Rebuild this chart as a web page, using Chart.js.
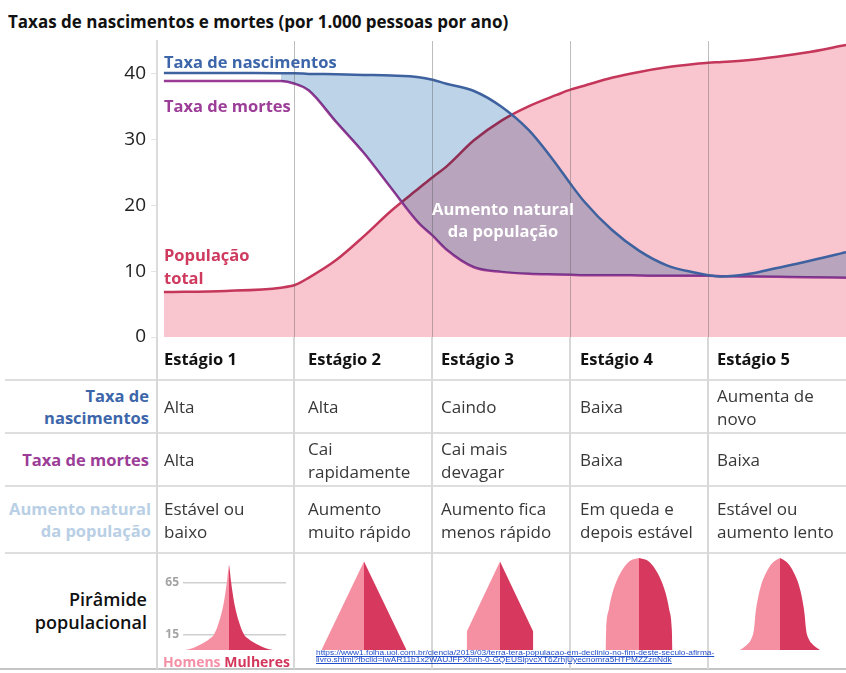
<!DOCTYPE html>
<html lang="pt-BR">
<head>
<meta charset="utf-8">
<title>Transição demográfica</title>
<script src="https://cdn.jsdelivr.net/npm/chart.js@4.4.1/dist/chart.umd.min.js"></script>
<style>
  body { margin: 0; background: #fff; font-family: 'Open Sans', 'Noto Sans', sans-serif; }
  #page { position: relative; width: 846px; height: 673px; overflow: hidden; }
  .abs { position: absolute; white-space: nowrap; }
  .hl { position: absolute; height: 2px; background: #dedede; }
  .vl { position: absolute; width: 1.5px; background: #d8d8d8; top: 337px; height: 332px; }
  .cell { position: absolute; display: flex; align-items: center; white-space: pre-line;
          font-size: 17px; line-height: 23px; color: #383838; }
  .rowlbl { position: absolute; left: 0; width: 149px; display: flex; align-items: center;
            justify-content: flex-end; text-align: right; font-weight: bold; font-size: 16.5px;
            line-height: 22px; white-space: pre-line; }
  .big { font-weight: bold; font-size: 16.5px; }
  canvas { position: absolute; }
</style>
</head>
<body>
<div id="page">
  <div class="abs big" style="left:8px;top:12px;line-height:20px;color:#111;font-size:17px">Taxas de nascimentos e mortes (por 1.000 pessoas por ano)</div>
  <div id="lines"></div>
  <canvas id="mainChart" width="846" height="330" style="left:0;top:30px"></canvas>
  <canvas id="pyr1" width="128" height="110" style="left:158px;top:555px"></canvas>
  <canvas id="pyr2" width="138" height="110" style="left:294px;top:555px"></canvas>
  <canvas id="pyr3" width="138" height="110" style="left:432px;top:555px"></canvas>
  <canvas id="pyr4" width="138" height="110" style="left:570px;top:555px"></canvas>
  <canvas id="pyr5" width="138" height="110" style="left:708px;top:555px"></canvas>

  <div class="abs big" style="left:164px;top:52px;line-height:20px;color:#3d66aa">Taxa de nascimentos</div>
  <div class="abs big" style="left:164px;top:96px;line-height:20px;color:#9c3d98">Taxa de mortes</div>
  <div class="abs big" style="left:164px;top:243px;line-height:23px;color:#cf3a5f">População<br>total</div>
  <div class="abs big" style="left:403px;top:198px;width:200px;text-align:center;line-height:22px;color:#fff">Aumento natural<br>da população</div>

  <div id="table"></div>

  <div class="abs" style="left:163px;top:653px;line-height:18px;font-size:14px;font-weight:bold">
    <span style="color:#f48fa6">Homens</span> <span style="color:#d4375c">Mulheres</span>
  </div>
  <div class="abs" id="url" style="left:316px;top:650px;font-family:'Liberation Sans',sans-serif;font-size:7px;line-height:6.5px;color:#2350c8;text-decoration:underline;transform-origin:0 0">https://www1.folha.uol.com.br/ciencia/2019/03/terra-tera-populacao-em-declinio-no-fim-deste-seculo-afirma-<br>livro.shtml?fbclid=IwAR11b1x2WAUJFFXbnh-0-GQEUSipvcXT6ZrhjUyecnomra5HTPMZZznNdk</div>
</div>

<script>
// Curvas do gráfico principal (posição 0–5 = estágios)
const stagePos   = [0.05, 0.5, 0.9, 1.0, 1.1, 1.3, 1.5, 1.7, 1.9, 2.0, 2.1, 2.3, 2.5, 2.7, 2.9, 3.0, 3.1, 3.3, 3.5, 3.7, 3.9, 4.0, 4.1, 4.3, 4.5, 4.7, 5.0];
const birthRate  = [40.15, 40.15, 40.1, 40.1, 40.0, 39.95, 39.85, 39.75, 39.5, 39.1, 38.5, 37.4, 35.0, 31.4, 26.2, 23.3, 20.6, 16.3, 13.1, 10.9, 9.8, 9.4, 9.2, 9.6, 10.5, 11.4, 12.9];
const deathRate  = [38.9, 38.9, 38.9, 38.5, 37.5, 32.7, 28.0, 22.6, 17.3, 15.4, 13.3, 10.6, 9.9, 9.6, 9.5, 9.45, 9.4, 9.4, 9.35, 9.3, 9.3, 9.3, 9.25, 9.2, 9.15, 9.1, 9.0];
const population = [6.84, 7.0, 7.5, 7.9, 9.0, 11.7, 15.3, 19.2, 22.6, 24.3, 25.9, 29.9, 32.9, 35.1, 36.8, 37.6, 38.2, 39.4, 40.3, 41.0, 41.5, 41.7, 41.8, 42.1, 42.6, 43.2, 44.4];
const yTicks = [0, 10, 20, 30, 40];

// Tabela
const stageNames = ['Estágio 1', 'Estágio 2', 'Estágio 3', 'Estágio 4', 'Estágio 5'];
const birthDesc  = ['Alta', 'Alta', 'Caindo', 'Baixa', 'Aumenta de\nnovo'];
const deathDesc  = ['Alta', 'Cai\nrapidamente', 'Cai mais\ndevagar', 'Baixa', 'Baixa'];
const growthDesc = ['Estável ou\nbaixo', 'Aumento\nmuito rápido', 'Aumento fica\nmenos rápido', 'Em queda e\ndepois estável', 'Estável ou\naumento lento'];

// Pirâmides: idade x meia-largura
const pyrAges1  = [0, 2, 5, 11, 15, 27, 43, 59, 66, 75, 82.5];
const pyrWidth1 = [44, 36, 29, 19, 15, 10, 5.7, 3, 2, 1, 0];
const pyrAges2  = [0, 85];
const pyrWidth2 = [42.5, 0];
const pyrAges3  = [0, 17.5, 85];
const pyrWidth3 = [33.3, 33.3, 0];
const pyrAges4  = [0, 20, 40, 55, 65, 75, 82, 86, 88.5];
const pyrWidth4 = [33.5, 32.8, 30, 26.5, 23, 18, 13, 8.5, 0];
const pyrAges5  = [0, 2, 5, 11, 20, 35, 50, 62, 72, 80, 85, 88.5];
const pyrWidth5 = [40, 37, 33, 28.5, 26, 24.5, 22, 19, 15, 10.5, 6, 0];
const pyrTicks  = [15, 65];

// --- linhas e textos da tabela
const colLeft = [157, 294, 432, 570, 708];
const textLeft = [164, 308, 441, 580, 717];
const lines = document.getElementById('lines');
[380, 433, 486, 553].forEach(y => {
  lines.insertAdjacentHTML('beforeend', `<div class="hl" style="left:5px;width:841px;top:${y - 1}px"></div>`);
});
lines.insertAdjacentHTML('beforeend', '<div class="hl" style="left:0;width:846px;top:668px;background:#c4c4c4"></div>');
colLeft.forEach(x => {
  lines.insertAdjacentHTML('beforeend', `<div class="vl" style="left:${x - 1}px"></div>`);
});

const table = document.getElementById('table');
function addRow(texts, top, bottom, extra) {
  texts.forEach((t, i) => {
    const d = document.createElement('div');
    d.className = 'cell';
    d.style.cssText = `left:${textLeft[i]}px;top:${top}px;height:${bottom - top}px;` + (extra || '');
    d.textContent = t;
    table.appendChild(d);
  });
}
addRow(stageNames, 337, 380, 'font-weight:bold;color:#111;font-size:16.5px');
addRow(birthDesc, 380, 433);
addRow(deathDesc, 433, 486);
addRow(growthDesc, 486, 553);

function addLabel(text, top, bottom, color, extra) {
  const d = document.createElement('div');
  d.className = 'rowlbl';
  d.style.cssText = `top:${top}px;height:${bottom - top}px;color:${color};` + (extra || '');
  d.textContent = text;
  table.appendChild(d);
}
addLabel('Taxa de\nnascimentos', 380, 433, '#3d66aa');
addLabel('Taxa de mortes', 433, 486, '#9c3d98');
addLabel('Aumento natural\nda população', 486, 553, '#b9cfe5', 'width:151px');
addLabel('Pirâmide\npopulacional', 553, 668, '#111', 'width:147px;font-size:18px;line-height:23px;font-weight:600');

// --- gráfico principal
const pts = arr => arr.map((v, i) => ({ x: stagePos[i], y: v }));

// pinta o preenchimento azul em modo "multiply" sobre o rosa
const multiplyFill = {
  id: 'multiplyFill',
  afterDatasetDraw(chart, args) {
    if (args.index === 1) chart.ctx.globalCompositeOperation = 'multiply';
  },
  beforeDatasetDraw(chart, args) {
    if (args.index === 0) chart.ctx.globalCompositeOperation = 'source-over';
  }
};

new Chart(document.getElementById('mainChart'), {
  type: 'line',
  data: {
    datasets: [
      {
        label: 'Taxa de nascimentos',
        data: pts(birthRate),
        borderColor: '#3e619f',
        borderWidth: 2.5,
        backgroundColor: '#bdd3e8',
        fill: 1,
        segment: { backgroundColor: c => c.p0.parsed.x < 0.9 ? 'rgba(255,255,255,0)' : '#bdd3e8' },
        pointRadius: 0,
        cubicInterpolationMode: 'monotone'
      },
      {
        label: 'Taxa de mortes',
        data: pts(deathRate),
        borderColor: '#9a3b95',
        borderWidth: 2.5,
        fill: false,
        pointRadius: 0,
        cubicInterpolationMode: 'monotone'
      },
      {
        label: 'População total',
        data: pts(population),
        borderColor: '#c5365b',
        borderWidth: 2.5,
        backgroundColor: '#f9c6cf',
        fill: 'origin',
        pointRadius: 0,
        cubicInterpolationMode: 'monotone'
      }
    ]
  },
  options: {
    responsive: false,
    animation: false,
    layout: { padding: { top: 11, left: 0, right: 0, bottom: 0 } },
    plugins: { legend: { display: false }, tooltip: { enabled: false } },
    scales: {
      x: {
        type: 'linear', min: 0, max: 5,
        ticks: { display: false, stepSize: 1 },
        border: { display: false },
        grid: {
          z: 1, drawTicks: false, lineWidth: 1,
          color: c => (c.tick && c.tick.value > 0 && c.tick.value < 5) ? 'rgba(90,90,90,0.4)' : 'rgba(0,0,0,0)'
        },
        afterFit: s => { s.height = 23; }
      },
      y: {
        min: 0, max: 45,
        afterBuildTicks: s => { s.ticks = yTicks.map(v => ({ value: v })); },
        ticks: { font: { family: 'Open Sans', size: 19 }, color: '#222', padding: 5 },
        grid: { drawOnChartArea: false, drawTicks: true, tickLength: 6, color: '#e4e4e4' },
        border: { display: true, color: '#dcdcdc', width: 2 },
        afterFit: s => { s.width = 157; s.paddingTop = 0; s.paddingBottom = 0; }
      }
    }
  },
  plugins: [multiplyFill]
});

// --- pirâmides
const yMinPyr = -15 / 1.04, yMaxPyr = 95 / 1.04;
function pyramid(id, ages, widths, canvasLeft, plotLeft, plotWidth, center, withAxis) {
  const men = ages.map((a, i) => ({ x: -widths[i], y: a }));
  const women = ages.map((a, i) => ({ x: widths[i], y: a })).reverse();
  const smooth = ages.length > 3;
  const ds = (data, color) => ({
    data, backgroundColor: color, borderWidth: 0, pointRadius: 0, fill: 'origin',
    tension: 0, cubicInterpolationMode: smooth ? 'monotone' : 'default'
  });
  new Chart(document.getElementById(id), {
    type: 'line',
    data: { datasets: [ds(men, '#f58fa2'), ds(women, '#d6395d')] },
    options: {
      responsive: false,
      animation: false,
      plugins: { legend: { display: false }, tooltip: { enabled: false } },
      layout: { padding: 0 },
      scales: {
        x: { type: 'linear', display: false, min: plotLeft - center, max: plotLeft + plotWidth - center },
        y: {
          display: withAxis, min: yMinPyr, max: yMaxPyr,
          afterBuildTicks: s => { s.ticks = pyrTicks.map(v => ({ value: v })); },
          ticks: { font: { family: 'Open Sans', size: 12, weight: 'bold' }, color: '#a3a3a3', padding: 4 },
          grid: { drawTicks: false, color: '#cfcfcf', lineWidth: 1.5 },
          border: { display: false },
          afterFit: s => { s.width = plotLeft - canvasLeft; s.paddingTop = 0; s.paddingBottom = 0; }
        }
      }
    }
  });
}
pyramid('pyr1', pyrAges1, pyrWidth1, 158, 183, 103, 229, true);
pyramid('pyr2', pyrAges2, pyrWidth2, 294, 294, 138, 364, false);
pyramid('pyr3', pyrAges3, pyrWidth3, 432, 432, 138, 500, false);
pyramid('pyr4', pyrAges4, pyrWidth4, 570, 570, 138, 639, false);
pyramid('pyr5', pyrAges5, pyrWidth5, 708, 708, 138, 780, false);

// ajusta a largura do link à referência
const url = document.getElementById('url');
url.style.transform = `scaleX(${398 / url.scrollWidth})`;
</script>
</body>
</html>
